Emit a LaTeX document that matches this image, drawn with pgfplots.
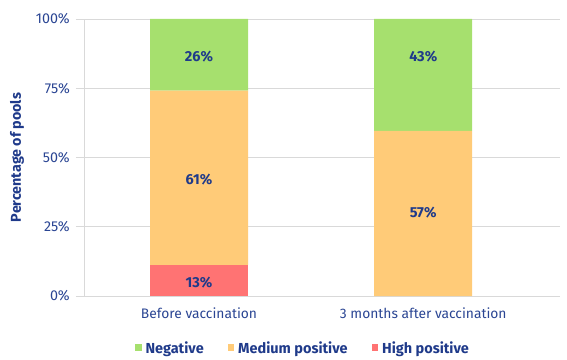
\documentclass[border=0pt]{standalone}
\usepackage{pgfplots}
\pgfplotsset{compat=1.18}
\usepackage{fontspec}
\setmainfont{Fira Sans}
\definecolor{navy}{HTML}{1F3A8A}
\definecolor{tnavy}{HTML}{2A4593}
\definecolor{cneg}{HTML}{A6E06E}
\definecolor{cmed}{HTML}{FFCB78}
\definecolor{chigh}{HTML}{FF7373}
\definecolor{gridc}{HTML}{D9D9D9}
\pgfplotsset{base/.style={
  at={(84pt,63pt)}, anchor=south west,
  scale only axis, width=476pt, height=277pt,
  xmin=-0.513, xmax=1.61, ymin=0, ymax=100}}
\begin{document}
\begin{tikzpicture}
\useasboundingbox (0pt,0pt) rectangle (567pt,359pt);
\begin{axis}[base,
  ybar stacked, bar width=98pt,
  xtick={0,1}, xticklabels={Before vaccination, 3 months after vaccination},
  ytick={0,25,50,75,100},
  yticklabel={\pgfmathprintnumber{\tick}\%},
  /pgf/number format/assume math mode=true,
  ymajorgrids, grid style={draw=gridc, line width=0.8pt},
  axis x line*=bottom, axis y line*=left,
  axis line style={draw=gridc, line width=0.8pt, -},
  xtick style={draw=none},
  ytick style={draw=gridc, line width=0.8pt},
  tick align=outside, major tick length=8pt,
  tick label style={text=tnavy},
  yticklabel style={inner sep=0pt, xshift=-6pt, font=\fontsize{14.3}{16}\selectfont},
  xticklabel style={inner sep=0pt, yshift=-4pt, font=\fontsize{13.8}{16}\selectfont},
  ylabel={Percentage of pools},
  every axis y label/.style={at={(axis description cs:0,0.5)}, xshift=-67pt, rotate=90, anchor=center,
    font=\fontsize{14.3}{16}\selectfont\bfseries, text=navy},
  legend style={at={(0.46,-0.1877)}, anchor=center, draw=none, legend columns=3,
    font=\fontsize{14.5}{16}\selectfont\bfseries, text=navy,
    /tikz/every even column/.append style={column sep=22pt},
    /tikz/every odd column/.append style={column sep=2pt}},
  legend cell align=left,
  reverse legend,
]
\addplot[fill=chigh, draw=none, legend image code/.code={\fill[chigh] (0pt,-3pt) rectangle (6.5pt,3.5pt);}] coordinates {(0,11.2) (1,0)};
\addlegendentry{High positive}
\addplot[fill=cmed, draw=none, legend image code/.code={\fill[cmed] (0pt,-3pt) rectangle (6.5pt,3.5pt);}] coordinates {(0,62.9) (1,59.6)};
\addlegendentry{Medium positive}
\addplot[fill=cneg, draw=none, legend image code/.code={\fill[cneg] (0pt,-3pt) rectangle (6.5pt,3.5pt);}] coordinates {(0,25.9) (1,40.4)};
\addlegendentry{Negative}
\end{axis}
\begin{axis}[base, hide axis]
\addplot[draw=none, mark=none, nodes near coords, point meta=explicit symbolic,
  nodes near coords align=center,
  every node near coord/.style={font=\fontsize{14.5}{16}\selectfont\bfseries, text=navy, anchor=center}]
  coordinates {(0,86.3) [26\%] (0,42.2) [61\%] (0,5.0) [13\%] (1,86.3) [43\%] (1,30.2) [57\%]};
\end{axis}
\end{tikzpicture}
\end{document}
